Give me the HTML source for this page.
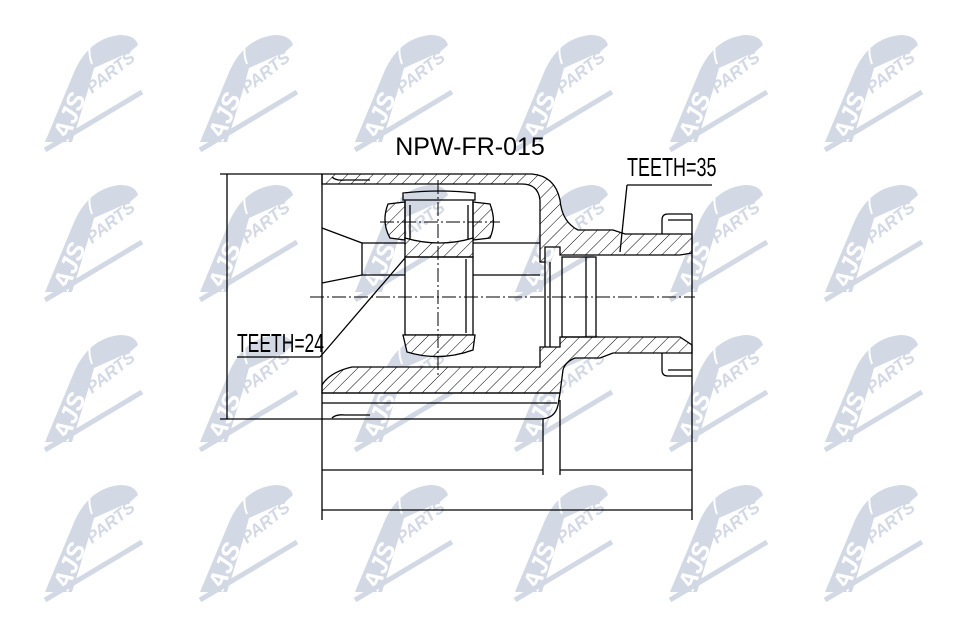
<!DOCTYPE html>
<html><head><meta charset="utf-8"><style>
html,body{margin:0;padding:0;background:#fff}
svg{display:block}
</style></head><body>
<svg width="960" height="640" viewBox="0 0 960 640" xmlns="http://www.w3.org/2000/svg">
<defs>
<pattern id="h" patternUnits="userSpaceOnUse" width="9" height="9" patternTransform="rotate(45)">
<rect width="9" height="9" fill="#fff"/><line x1="0" y1="0" x2="0" y2="9" stroke="#000" stroke-width="1"/>
</pattern>
<g id="logo">
<path d="M15,112 L45,40 Q60,8 90,5 Q105,5 108,15 L100,22 L64,38 L58,60 L42,112 Z" fill="#d3d8e5"/>
<path d="M60,12 Q58,24 62,34" stroke="#fff" stroke-width="2" fill="none"/>
<text x="0" y="0" transform="translate(38,112) rotate(-68)" font-family="Liberation Sans" font-weight="bold" font-style="italic" font-size="25" fill="#fff">AJS</text>
<text x="0" y="0" transform="translate(62,64) rotate(-38)" font-family="Liberation Sans" font-weight="bold" font-style="italic" font-size="17" fill="#d3d8e5">PARTS</text>
<line x1="15" y1="120" x2="112" y2="62" stroke="#d3d8e5" stroke-width="5"/>
</g>
</defs>
<rect width="960" height="640" fill="#fff"/>
<g>
<use href="#logo" x="30" y="30"/><use href="#logo" x="185" y="30"/><use href="#logo" x="340" y="30"/><use href="#logo" x="500" y="30"/><use href="#logo" x="655" y="30"/><use href="#logo" x="810" y="30"/>
<use href="#logo" x="30" y="180"/><use href="#logo" x="185" y="180"/><use href="#logo" x="340" y="180"/><use href="#logo" x="500" y="180"/><use href="#logo" x="655" y="180"/><use href="#logo" x="810" y="180"/>
<use href="#logo" x="30" y="330"/><use href="#logo" x="185" y="330"/><use href="#logo" x="340" y="330"/><use href="#logo" x="500" y="330"/><use href="#logo" x="655" y="330"/><use href="#logo" x="810" y="330"/>
<use href="#logo" x="30" y="480"/><use href="#logo" x="185" y="480"/><use href="#logo" x="340" y="480"/><use href="#logo" x="500" y="480"/><use href="#logo" x="655" y="480"/><use href="#logo" x="810" y="480"/>
</g>
<g fill="none" stroke="#000" stroke-width="1.3">
<path d="M322,174 L532,174 Q555,176 560,200 Q562,222 578,230 L613,230 L625,234 L692,234 L692,253 L680,255 L560,255 L560,247 L545,247 L545,262 L540,262 L540,200 Q538,184 522,184 L322,184 Z" fill="url(#h)"/>
<path d="M322,393 L322,385 Q330,372 352,367 L540,367 L540,347 L560,347 L560,337 L680,337 L692,345 L692,353 L613,353 L600,358 L575,358 Q565,362 563,370 L560,393 Z" fill="url(#h)"/>
<path d="M322,393 L560,393 L558,405 Q555,419 540,419 L322,419"/>
<line x1="322" y1="403" x2="557" y2="403"/>
<path d="M332,418 Q336,414 345,415 L370,415"/>
<path d="M332,177 Q336,181 345,180 L370,180"/>
<path d="M662,234 L662,220 Q662,214 668,214 L692,214 M668,220 L692,220"/>
<path d="M662,353 L662,370 Q662,376 668,376 L692,376 M668,370 L692,370"/>
<line x1="692" y1="214" x2="692" y2="376"/>
<rect x="562" y="257" width="34" height="80"/>
<line x1="586" y1="257" x2="586" y2="337"/>
<line x1="545" y1="262" x2="545" y2="347"/>
<line x1="550" y1="262" x2="550" y2="347"/>
<line x1="322" y1="174" x2="322" y2="419"/>
<path d="M322,228 L362,243 L362,275 L322,283"/>
<line x1="362" y1="243" x2="405" y2="243"/>
<line x1="473" y1="243" x2="540" y2="243"/>
<line x1="362" y1="275" x2="405" y2="275"/>
<line x1="473" y1="275" x2="540" y2="275"/>
<path d="M403,200 L403,193 Q440,189 475,193 L475,200 Z"/>
<path d="M388,204 L405,202 L405,240 L390,238 Q381,222 388,204 Z" fill="url(#h)"/>
<path d="M473,202 L490,204 Q497,222 490,238 L473,240 Z" fill="url(#h)"/>
<line x1="405" y1="200" x2="405" y2="240"/>
<line x1="473" y1="200" x2="473" y2="240"/>
<line x1="410" y1="205" x2="410" y2="240"/>
<line x1="468" y1="205" x2="468" y2="240"/>
<path d="M405,238 Q440,248 473,238 L473,257 L405,257 Z" fill="url(#h)"/>
<rect x="405" y="257" width="68" height="78"/>
<line x1="466" y1="259" x2="466" y2="333"/>
<path d="M403,335 L475,335 L473,350 Q440,362 407,352 Z" fill="url(#h)"/>
<line x1="220" y1="174" x2="322" y2="174"/>
<line x1="220" y1="419" x2="322" y2="419"/>
<line x1="227" y1="174" x2="227" y2="419"/>
<line x1="322" y1="419" x2="322" y2="520"/>
<line x1="543" y1="419" x2="543" y2="475"/>
<line x1="560" y1="400" x2="560" y2="475"/>
<line x1="692" y1="376" x2="692" y2="520"/>
<line x1="322" y1="470" x2="543" y2="470"/>
<line x1="560" y1="470" x2="692" y2="470"/>
<line x1="322" y1="510" x2="692" y2="510"/>
<line x1="237" y1="357" x2="320" y2="357"/>
<line x1="320" y1="357" x2="405" y2="258"/>
<line x1="627" y1="185" x2="712" y2="185"/>
<line x1="627" y1="185" x2="620" y2="252"/>
</g>
<g stroke="#000" stroke-width="1" stroke-dasharray="14,3,2,3" fill="none">
<line x1="310" y1="297" x2="695" y2="297"/>
<line x1="438" y1="180" x2="438" y2="377"/>
<line x1="380" y1="222" x2="500" y2="222"/>
</g>
<text x="470" y="155" text-anchor="middle" font-family="Liberation Sans, sans-serif" font-size="25" fill="#000">NPW-FR-015</text>
<text x="0" y="0" transform="translate(627,176) scale(0.72,1.05)" font-family="Liberation Sans, sans-serif" font-size="25" fill="#000">TEETH=35</text>
<text x="0" y="0" transform="translate(237,352) scale(0.7,1.05)" font-family="Liberation Sans, sans-serif" font-size="25" fill="#000">TEETH=24</text>
</svg>
</body></html>
